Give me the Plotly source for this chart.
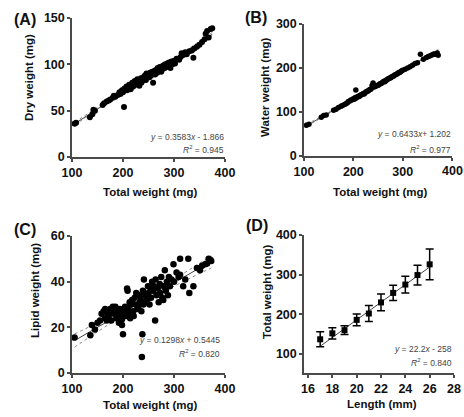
import plotly.graph_objects as go

W, H = 464, 417

# ---------------- Data ----------------
# Panel A: total weight vs dry weight
a_total = [105,108,135,140,142,145,160,163,168,172,175,180,182,185,190,193,195,198,200,202,203,205,207,208,210,212,213,215,217,218,220,222,223,225,227,228,230,232,233,235,236,238,240,241,243,245,246,248,250,252,253,255,257,259,260,262,263,265,267,268,270,272,273,275,277,278,280,282,283,285,287,288,290,292,293,295,297,300,302,305,310,313,315,318,322,325,330,335,338,340,345,350,355,360,362,365,368,372,375]
a_dry = [36,37,43,46,51,50,56,58,60,61,62,64,66,65,67,70,68,72,70,54,74,73,76,72,75,78,74,73,77,80,76,79,82,78,80,84,81,77,83,85,80,82,86,84,88,83,90,87,89,86,91,88,92,80,90,93,89,94,91,96,93,97,95,92,98,95,99,96,100,97,101,98,102,99,96,103,100,104,101,106,105,108,112,110,113,111,114,115,107,117,119,121,124,127,133,136,129,138,139]
a_fit = (0.3583, -1.866)
a_fit_x = [105, 375]
a_band_x = [105, 170, 240, 300, 375]
a_band_hi = [37.4, 60.7, 84.4, 106.2, 134.4]
a_band_lo = [34.2, 58.9, 83.6, 104.4, 131.4]

# Panel B: total weight vs water weight
b_total = [105,110,135,140,145,160,165,170,175,178,182,185,188,190,193,195,198,200,202,204,205,206,208,210,212,214,216,218,220,222,224,226,228,230,232,234,236,238,240,242,244,246,248,250,252,254,256,258,260,262,264,266,268,270,272,274,276,278,280,282,284,286,288,290,292,294,296,298,300,305,310,315,320,325,330,336,342,348,352,356,360,363,366,370,372]
b_water = [70,72,88,92,93,104,106,110,113,115,117,119,121,124,125,127,128,130,129,133,150,132,134,136,135,138,139,140,142,141,144,146,147,148,150,151,152,160,166,157,158,159,160,161,162,164,165,166,168,170,169,172,173,175,176,177,178,180,181,182,184,185,186,188,189,190,192,193,195,197,200,203,206,210,212,231,220,224,226,228,230,232,231,234,229]
b_fit = (0.6433, 1.202)
b_fit_x = [105, 372]
b_band_x = [105, 170, 240, 300, 372]
b_band_hi = [71.6, 111.6, 156.6, 195.6, 242.6]
b_band_lo = [67.6, 109.0, 154.8, 193.0, 237.6]
b_xticks = [100, 200, 300, 400]
b_xticktext = ["100", "200", "300", ""]   # the last one is drawn as an annotation

# Panel C: total weight vs lipid weight
c_total = [105,136,139,145,150,155,158,162,165,165,168,170,172,175,177,178,180,182,185,187,189,190,192,194,196,198,198,200,202,204,206,208,209,210,211,213,214,216,218,220,221,223,225,226,228,230,232,233,235,236,238,237,239,240,241,243,245,247,249,250,252,254,255,257,259,261,263,264,266,268,270,272,273,275,277,279,280,282,284,286,288,290,292,295,299,300,305,309,312,312,318,322,328,330,338,345,351,355,361,365,368,371,373]
c_lipid = [15.5,16.5,21,19,22,23,26,27,28,24,23,26,25,28,23,27,29,26,29,24,28,26,22,28,25,23.5,21,17,27,29,25,37,36,28,26,31,24,30,32,27,25,33,30,35,28,29,34,31,32,27,17,7,36,30,41,34,31,32,38,35,30,37,33,40,36,38,23,41,34,37,31,39,35,42,33,32,38,45,36,40,34,42,38,41,47.6,40,44,42,50,43,38,41,50,35,38,46,45,47,47.6,48,50,49.6,49]
c_fit = (0.1298, 0.5445)
c_fit_x = [105, 373]
c_band_x = [105, 170, 240, 300, 373]
c_band_hi = [17.1, 24.2, 32.7, 41.0, 51.3]
c_band_lo = [11.3, 21.0, 30.7, 38.0, 46.0]

# Panel D: length vs total weight (mean +/- SD)
d_length = [17, 18, 19, 20, 21, 22, 23, 24, 25, 26]
d_mean = [137, 152, 160, 186, 202, 230, 254, 275, 299, 326]
d_err = [19, 14, 11, 15, 20, 21, 19, 21, 25, 39]
d_fit = (22.2, -258)
d_fit_x = [17, 26]

eq_text = {
    "A": ("<i>y</i> = 0.3583<i>x</i> - 1.866", "<i>R</i><sup>2</sup> = 0.945"),
    "B": ("<i>y</i> = 0.6433<i>x</i>+ 1.202", "<i>R</i><sup>2</sup> = 0.977"),
    "C": ("<i>y</i> = 0.1298<i>x</i> + 0.5445", "<i>R</i><sup>2</sup> = 0.820"),
    "D": ("<i>y</i> = 22.2<i>x</i> - 258", "<i>R</i><sup>2</sup> = 0.840"),
}

# ---------------- Layout helpers ----------------
def px(x):
    return x / W

def py(y):
    return 1 - y / H

FONT = "Liberation Sans, Arial, sans-serif"
AXC = "#4a4a4a"
TICKFONT = dict(family=FONT, size=12.5, color="#111", weight="bold")

fig = go.Figure()

def axis_style(**kw):
    d = dict(showline=True, linecolor=AXC, linewidth=1.5, ticks="outside", ticklen=3,
             tickwidth=1.5, tickcolor=AXC, showgrid=False, zeroline=False, automargin=False,
             tickfont=TICKFONT, ticklabeloverflow="allow", fixedrange=True)
    d.update(kw)
    return d

# pixel domains
panels = {
    "A": dict(x=(72, 225), y=(18, 157), xr=[100, 400], yr=[0, 150], xt=[100, 200, 300, 400], yt=[0, 50, 100, 150]),
    "B": dict(x=(304, 452), y=(24, 156), xr=[100, 400], yr=[0, 300], xt=b_xticks, yt=[0, 100, 200, 300]),
    "C": dict(x=(72, 225), y=(236, 373), xr=[100, 400], yr=[0, 60], xt=[100, 200, 300, 400], yt=[0, 20, 40, 60]),
    "D": dict(x=(304, 454), y=(235, 373), xr=[15.67, 28], yr=[52, 400], xt=[16, 18, 20, 22, 24, 26, 28], yt=[100, 200, 300, 400]),
}

layout_axes = {}
for i, (k, p) in enumerate(panels.items()):
    n = "" if i == 0 else str(i + 1)
    layout_axes["xaxis" + n] = axis_style(domain=[px(p["x"][0]), px(p["x"][1])], range=p["xr"],
                                          tickvals=p["xt"], anchor="y" + n, ticklabelstandoff=0)
    layout_axes["yaxis" + n] = axis_style(domain=[py(p["y"][1]), py(p["y"][0])], range=p["yr"],
                                          tickvals=p["yt"], anchor="x" + n, ticklabelstandoff=0)
layout_axes["xaxis2"]["ticktext"] = b_xticktext

def add_reg(xs, fit, bx, bhi, blo, xa, ya, band=True):
    m, b = fit
    fig.add_trace(go.Scatter(x=xs, y=[m * v + b for v in xs], mode="lines",
                             line=dict(color="#444", width=1), xaxis=xa, yaxis=ya,
                             showlegend=False, hoverinfo="skip"))
    if band:
        for arr in (bhi, blo):
            fig.add_trace(go.Scatter(x=bx, y=arr, mode="lines", line_shape="spline",
                                     line=dict(color="#888", width=1, dash="dot"),
                                     xaxis=xa, yaxis=ya, showlegend=False, hoverinfo="skip"))

# Panel A
add_reg(a_fit_x, a_fit, a_band_x, a_band_hi, a_band_lo, "x", "y")
fig.add_trace(go.Scatter(x=a_total, y=a_dry, mode="markers", marker=dict(color="black", size=6),
                         xaxis="x", yaxis="y", showlegend=False))
# Panel B
add_reg(b_fit_x, b_fit, b_band_x, b_band_hi, b_band_lo, "x2", "y2")
fig.add_trace(go.Scatter(x=b_total, y=b_water, mode="markers", marker=dict(color="black", size=5.5),
                         xaxis="x2", yaxis="y2", showlegend=False))
# Panel C
add_reg(c_fit_x, c_fit, c_band_x, c_band_hi, c_band_lo, "x3", "y3")
fig.add_trace(go.Scatter(x=c_total, y=c_lipid, mode="markers", marker=dict(color="black", size=6.5),
                         xaxis="x3", yaxis="y3", showlegend=False))
# Panel D
add_reg(d_fit_x, d_fit, None, None, None, "x4", "y4", band=False)
fig.add_trace(go.Scatter(x=d_length, y=d_mean, mode="markers",
                         marker=dict(color="black", size=6, symbol="square"),
                         error_y=dict(type="data", array=d_err, visible=True, color="black",
                                      thickness=1.5, width=4),
                         xaxis="x4", yaxis="y4", showlegend=False))

annotations = []
def txt(t, x, y, size, xanchor="center", yanchor="middle", angle=0, bold=True, color="#111"):
    annotations.append(dict(text=t, x=px(x), y=py(y), xref="paper", yref="paper",
                            xanchor=xanchor, yanchor=yanchor, showarrow=False, textangle=angle,
                            font=dict(family=FONT, size=size, color=color,
                                      weight="bold" if bold else "normal")))

# last tick label of panel B, placed through the x2 scale
annotations.append(dict(text=str(b_xticks[-1]), x=b_xticks[-1], xref="x2", y=py(171), yref="paper",
                        xanchor="center", yanchor="middle", showarrow=False, font=TICKFONT))

# panel labels
txt("(A)", 25, 19, 16)
txt("(B)", 256, 18, 16)
txt("(C)", 25, 229, 16)
txt("(D)", 257, 226, 16)
# x titles
txt("Total weight (mg)", 150, 192, 11.5)
txt("Total weight (mg)", 380, 192, 11.5)
txt("Total weight (mg)", 150, 405, 11.5)
txt("Length (mm)", 382, 404, 11.5)
# y titles
txt("Dry weight (mg)", 29, 78, 11.5, angle=-90)
txt("Water weight (mg)", 265, 88, 11.5, angle=-90)
txt("Lipid weight (mg)", 35, 291, 11.5, angle=-90)
txt("Total weight (mg)", 267, 292, 11.5, angle=-90)
# equations
eqpos = {"A": (226, 137, 149), "B": (453, 134, 149), "C": (222, 340, 353), "D": (454, 349, 362)}
for k, (x, y1, y2) in eqpos.items():
    txt(eq_text[k][0], x, y1, 8.5, xanchor="right", bold=False, color="#444")
    txt(eq_text[k][1], x, y2, 8.5, xanchor="right", bold=False, color="#444")

fig.update_layout(width=W, height=H, margin=dict(l=0, r=0, t=0, b=0),
                  paper_bgcolor="white", plot_bgcolor="white",
                  annotations=annotations, **layout_axes)

fig.write_html("out.html", config={"displayModeBar": False},
               post_script="document.body.style.margin='0';document.body.style.padding='0';")
